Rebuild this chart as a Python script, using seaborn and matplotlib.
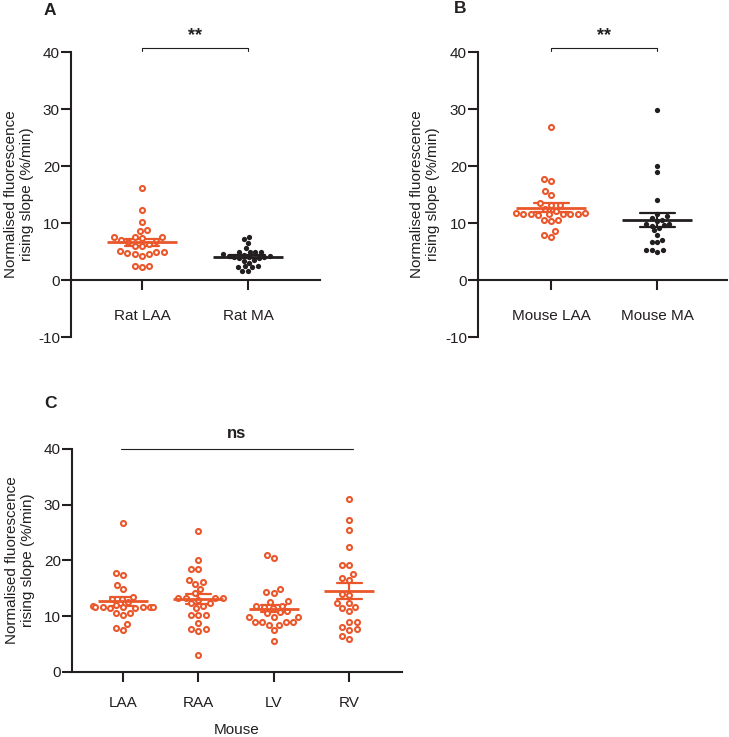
import pandas as pd
import matplotlib
matplotlib.use('Agg')
import matplotlib.pyplot as plt
import seaborn as sns

orange = '#E9572B'
ink = '#231F20'

# values (%/min)
rat_groups = ['Rat LAA', 'Rat MA']
rat_laa = [16.1, 12.2, 10.1, 8.8, 8.6, 7.6, 7.5, 7.5, 7.4, 7.0, 6.8, 6.6, 6.4,
           6.0, 6.0, 5.1, 4.9, 4.9, 4.8, 4.5, 4.3, 4.5, 2.5, 2.4, 2.3]
rat_ma = [7.6, 7.2, 6.5, 5.6, 5.0, 5.0, 5.0, 4.9, 4.5, 4.4, 4.3, 4.2, 4.1,
          4.0, 4.0, 3.9, 3.8, 3.6, 3.4, 3.0, 2.4, 2.2, 2.2, 2.4, 1.6, 1.6]

mouse_groups = ['Mouse LAA', 'Mouse MA']
mouse_laa = [26.8, 17.8, 17.4, 15.6, 14.9, 13.5, 13.1, 13.1, 12.5, 12.1, 11.8,
             11.6, 11.6, 11.6, 11.6, 11.7, 11.5, 11.6, 11.4, 10.6, 10.3, 10.6,
             8.6, 7.9, 7.5]
mouse_ma = [29.8, 20.0, 18.9, 14.1, 11.6, 11.2, 10.8, 10.6, 10.4, 9.8, 9.8, 9.7,
            9.5, 9.2, 8.7, 7.9, 7.0, 6.6, 6.6, 5.2, 5.2, 5.2, 5.0]

chamber_groups = ['LAA', 'RAA', 'LV', 'RV']
mouse_raa = [25.3, 20.1, 18.5, 18.5, 16.5, 16.1, 15.7, 14.9, 14.1, 13.2, 13.2,
             13.2, 13.0, 13.2, 12.4, 12.4, 11.9, 11.4, 10.2, 10.2, 10.2, 8.8,
             7.7, 7.7, 7.4, 3.0]
mouse_lv = [21.0, 20.4, 14.9, 14.4, 14.2, 12.7, 12.5, 11.9, 11.9, 11.6, 11.4,
            10.9, 10.7, 10.5, 9.9, 9.9, 9.9, 9.0, 9.0, 9.0, 9.0, 8.4, 8.4, 7.5, 5.6]
mouse_rv = [31.0, 27.3, 25.4, 22.5, 19.2, 19.2, 17.6, 16.9, 16.5, 13.9, 13.8,
            12.3, 12.3, 11.7, 11.5, 11.0, 9.0, 9.0, 8.0, 7.7, 7.5, 6.5, 6.0]

sns.set_theme(style='ticks')
plt.rcParams['font.family'] = ['Liberation Sans', 'DejaVu Sans']
plt.rcParams['axes.linewidth'] = 1.5
plt.rcParams['axes.edgecolor'] = ink
plt.rcParams['axes.unicode_minus'] = False


def make_df(groups, values):
    rows = []
    for g, vals in zip(groups, values):
        for v in vals:
            rows.append({'group': g, 'value': v})
    return pd.DataFrame(rows)


def draw_panel(ax, groups, values, colors, hollow, ylim, yticks, xlim, xpad, label_x):
    df = make_df(groups, values)
    for g, c, h in zip(groups, colors, hollow):
        sub = df[df['group'] == g]
        n_before = len(ax.collections)
        sns.swarmplot(data=sub, x='group', y='value', order=groups, ax=ax,
                      color=c, size=3.6 if h else 3.8, linewidth=0)
        for coll in ax.collections[n_before:]:
            if h:
                coll.set_facecolor('white')
                coll.set_edgecolor(c)
                coll.set_linewidth(1.5)
    # SEM bars
    sns.pointplot(data=df, x='group', y='value', order=groups, hue='group',
                  hue_order=groups, palette=dict(zip(groups, colors)),
                  errorbar='se', capsize=0.33, linestyle='none', marker='',
                  err_kws={'linewidth': 1.6}, legend=False, ax=ax)
    # mean lines
    means = df.groupby('group')['value'].mean()
    for i, (g, c) in enumerate(zip(groups, colors)):
        ax.hlines(means[g], i - 0.33, i + 0.33, color=c, lw=2.0, zorder=4)

    ax.set_xlim(*xlim)
    ax.set_ylim(*ylim)
    ax.set_yticks(yticks)
    ax.spines['top'].set_visible(False)
    ax.spines['right'].set_visible(False)
    ax.spines['bottom'].set_position(('data', 0))
    ax.tick_params(axis='both', length=7, width=1.5, color=ink,
                   labelsize=11, labelcolor=ink)
    ax.tick_params(axis='x', pad=xpad)
    ax.tick_params(axis='y', pad=1)
    ax.set_xlabel('')
    ax.set_ylabel('Normalised fluorescence\nrising slope (%/min)',
                  fontsize=11, color=ink)
    ax.yaxis.set_label_coords(label_x, 0.5)


fig = plt.figure(figsize=(7.29, 7.37), dpi=100)

axA = fig.add_axes([0.0974, 0.5427, 0.3416, 0.3867])
draw_panel(axA, rat_groups, [rat_laa, rat_ma], [orange, ink], [True, False],
           (-10, 40), [-10, 0, 10, 20, 30, 40], (-0.67, 1.68), 14, -0.149)

axB = fig.add_axes([0.6557, 0.5427, 0.3416, 0.3867])
draw_panel(axB, mouse_groups, [mouse_laa, mouse_ma], [orange, ink], [True, False],
           (-10, 40), [-10, 0, 10, 20, 30, 40], (-0.69, 1.66), 14, -0.153)

axC = fig.add_axes([0.0988, 0.0882, 0.4527, 0.3026])
draw_panel(axC, chamber_groups, [mouse_laa, mouse_raa, mouse_lv, mouse_rv],
           [orange] * 4, [True] * 4, (0, 40), [0, 10, 20, 30, 40],
           (-0.675, 3.7), 10, -0.112)
axC.set_xlabel('Mouse', fontsize=11, color=ink, labelpad=10)

# significance annotations
for ax in (axA, axB):
    ax.plot([0, 0, 1, 1], [40.15, 40.7, 40.7, 40.15], color=ink, lw=0.8,
            clip_on=False)
    ax.text(0.5, 42.9, '**', ha='center', va='center', fontsize=13,
            fontweight='bold', color=ink, clip_on=False)
axC.plot([-0.03, 3.05], [40, 40], color=ink, lw=0.8, clip_on=False)
axC.text(1.5, 42.7, 'ns', ha='center', va='center', fontsize=12,
         fontweight='bold', color=ink, clip_on=False)

# panel letters
fig.text(0.069, 0.986, 'A', fontsize=12.5, fontweight='bold', color=ink,
         ha='center', va='center')
fig.text(0.631, 0.988, 'B', fontsize=12.5, fontweight='bold', color=ink,
         ha='center', va='center')
fig.text(0.069, 0.453, 'C', fontsize=12.5, fontweight='bold', color=ink,
         ha='center', va='center')

fig.savefig('out.png', dpi=100)
